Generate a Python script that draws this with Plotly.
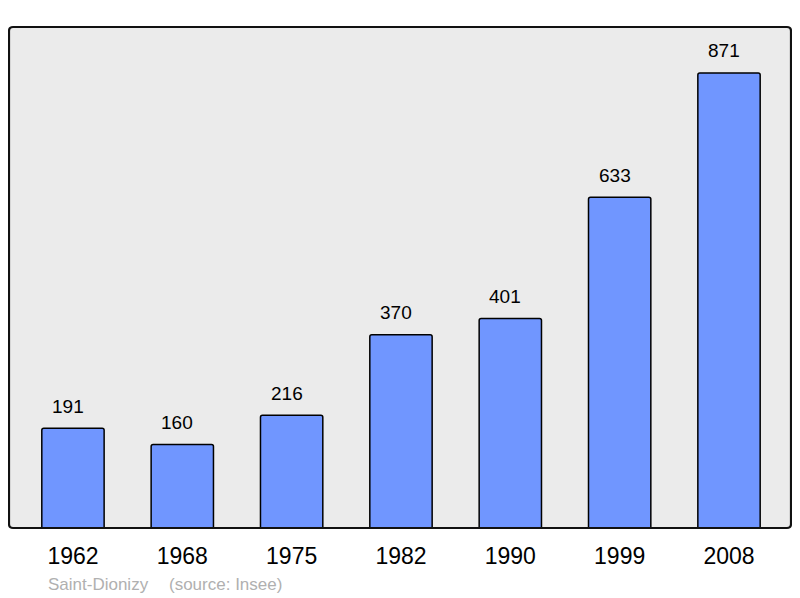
import plotly.graph_objects as go

years = ["1962", "1968", "1975", "1982", "1990", "1999", "2008"]
population = [191, 160, 216, 370, 401, 633, 871]
commune = "Saint-Dionizy"
source = "(source: Insee)"

xpos = list(range(len(years)))

fig = go.Figure()
fig.add_trace(go.Bar(
    x=xpos, y=population, width=0.57,
    marker=dict(color="#7096ff", line=dict(color="#000000", width=1.5), cornerradius=2),
    hoverinfo="skip",
))

for xi, v in zip(xpos, population):
    fig.add_annotation(x=xi, y=v, text=str(v), showarrow=False, yshift=22, xshift=-5,
                       yanchor="middle", xanchor="center",
                       font=dict(family="Liberation Sans, Arial", size=19, color="#000"))

fig.add_annotation(xref="paper", yref="paper", x=(46 - 9) / 782, y=-(584 - 528) / 501,
                   xanchor="left", yanchor="middle", text=commune, showarrow=False,
                   font=dict(family="Liberation Sans, Arial", size=17, color="#b0b0b0"))
fig.add_annotation(xref="paper", yref="paper", x=(167 - 9) / 782, y=-(584 - 528) / 501,
                   xanchor="left", yanchor="middle", text=source, showarrow=False,
                   font=dict(family="Liberation Sans, Arial", size=17, color="#b0b0b0"))

rx, ry = 4 / 782, 4 / 501
frame = (f"M {rx},0 L {1-rx},0 Q 1,0 1,{ry} L 1,{1-ry} Q 1,1 {1-rx},1 "
         f"L {rx},1 Q 0,1 0,{1-ry} L 0,{ry} Q 0,0 {rx},0 Z")
fig.add_shape(type="path", xref="paper", yref="paper", path=frame,
              line=dict(color="#111", width=2.2), layer="above")

fig.update_layout(
    width=792, height=590,
    margin=dict(l=1, r=9, t=19, b=70),
    paper_bgcolor="#ffffff", plot_bgcolor="#ebebeb",
    showlegend=False,
    xaxis=dict(range=[-0.585, 6.567], tickmode="array", tickvals=xpos, ticktext=years,
               showgrid=False, zeroline=False, ticks="", showline=False,
               ticklabelstandoff=12,
               tickfont=dict(family="Liberation Sans, Arial", size=23, color="#000")),
    yaxis=dict(range=[0, 959], showgrid=False, zeroline=False, showticklabels=False,
               ticks="", showline=False),
)

fig.write_html("out.html")
